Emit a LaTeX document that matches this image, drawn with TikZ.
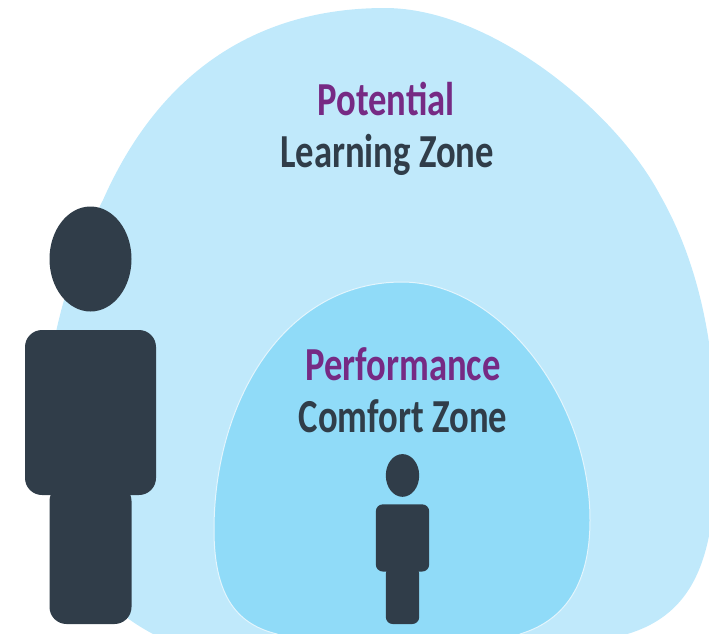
\documentclass[tikz,border=0pt]{standalone}
\usepackage{fontspec}
\setmainfont{Carlito}
\definecolor{outerzone}{HTML}{C0E9FB}
\definecolor{innerzone}{HTML}{90DBF8}
\definecolor{figurecolor}{HTML}{303D49}
\definecolor{titlecolor}{HTML}{762A84}
\tikzstyle{outerdome} = [fill=outerzone]
\tikzstyle{innerdome} = [
    fill=innerzone,
    draw=outerzone!45!white,
    line width=1pt
    ]
\tikzstyle{figurepart} = [fill=figurecolor]
\tikzstyle{zonelabel} = [
    font=\fontsize{37}{37}\selectfont\bfseries,
    anchor=base,
    inner sep=0pt,
    xscale=0.99,
    yscale=1.28,
    transform shape
    ]
\tikzstyle{zonetitle} = [zonelabel, text=titlecolor]
\tikzstyle{zonename} = [zonelabel, text=figurecolor]
\newcommand{\person}[3]{% feet centre x, feet y, scale
\begin{scope}[shift={(#1,#2)},scale=#3]
    \fill[figurepart] (0,-365) ellipse [x radius=41, y radius=52.5];
    \fill[figurepart,rounded corners=#3*17pt] (-65.5,-129) rectangle (65.5,-294);
    \fill[figurepart,rounded corners=#3*17pt] (-41,0) rectangle (41,-140);
\end{scope}}

\begin{document}
\begin{tikzpicture}[x=1pt,y=-1pt]
\useasboundingbox (0,0) rectangle (709,633);
\clip (0,0) rectangle (709,633);
% zones
\path[outerdome] (157,636) .. controls (85,600) and (45,530) .. (45,430)
    .. controls (45,340) and (75,255) .. (103,200)
    .. controls (165,60) and (270,8) .. (385,8)
    .. controls (490,8) and (615,110) .. (660,195)
    .. controls (700,265) and (716,350) .. (716,440)
    .. controls (716,540) and (705,615) .. (620,636) -- cycle;
\path[innerdome] (277,640) -- (277,634) .. controls (240,625) and (214,600) .. (214,530)
    .. controls (214,400) and (285,282) .. (402,282)
    .. controls (500,282) and (590,400) .. (590,520)
    .. controls (590,590) and (560,622) .. (520,634) -- (520,640) -- cycle;
% people
\person{90.5}{624}{1}
\person{402.5}{624}{0.407}
% labels
\node[zonetitle] (potential) at (386,115) {Potential};
\node[zonename] (learning) at (387,167) {Learning Zone};
\node[zonetitle] (performance) at (403,380) {Performance};
\node[zonename] (comfort) at (403,432) {Comfort Zone};
\end{tikzpicture}
\end{document}
